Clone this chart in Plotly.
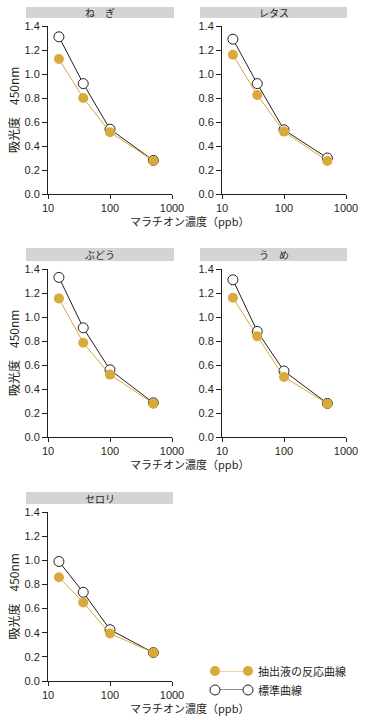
import plotly.graph_objects as go

# ---- data ----
conc = [15, 37, 100, 500]  # ppb
panels = ["ね　ぎ", "レタス", "ぶどう", "う　め", "セロリ"]
standard = {
    "ね　ぎ": [1.31, 0.92, 0.54, 0.28],
    "レタス": [1.29, 0.92, 0.535, 0.30],
    "ぶどう": [1.33, 0.91, 0.56, 0.285],
    "う　め": [1.31, 0.88, 0.55, 0.28],
    "セロリ": [0.99, 0.735, 0.425, 0.235],
}
extract = {
    "ね　ぎ": [1.125, 0.80, 0.515, 0.277],
    "レタス": [1.16, 0.825, 0.52, 0.275],
    "ぶどう": [1.155, 0.785, 0.52, 0.278],
    "う　め": [1.16, 0.84, 0.50, 0.278],
    "セロリ": [0.86, 0.65, 0.393, 0.235],
}
yticks = [0.0, 0.2, 0.4, 0.6, 0.8, 1.0, 1.2, 1.4]
xticks = [10, 100, 1000]
legend_labels = ["抽出液の反応曲線", "標準曲線"]

W, H = 368, 720
GOLD = "#DAA93B"
DARK = "#231F20"
JP = "Noto Sans CJK JP"
LAT = "Liberation Sans, Arial"

# plot areas in pixels: (left, right, top, bottom)
boxes = [
    (48, 172, 26, 194),
    (222, 346, 26, 194),
    (48, 172, 269, 437),
    (222, 346, 269, 437),
    (48, 172, 512, 681),
]
bars = [
    (26, 174, 7, 18),
    (200, 347, 7, 18),
    (26, 174, 248, 261),
    (200, 347, 248, 261),
    (26, 173, 492, 504),
]

fig = go.Figure()
shapes = []
annotations = []

for i, name in enumerate(panels):
    l, r, t, b = boxes[i]
    n = i + 1
    xa = "x" if n == 1 else f"x{n}"
    ya = "y" if n == 1 else f"y{n}"
    fig.add_trace(go.Scatter(
        x=conc, y=standard[name], xaxis=xa, yaxis=ya, mode="lines+markers",
        line=dict(color=DARK, width=1),
        marker=dict(size=10, color="white", line=dict(color=DARK, width=1)),
        showlegend=False, cliponaxis=False))
    fig.add_trace(go.Scatter(
        x=conc, y=extract[name], xaxis=xa, yaxis=ya, mode="lines+markers",
        line=dict(color=GOLD, width=1),
        marker=dict(size=10, color=GOLD, line=dict(color=GOLD, width=0)),
        showlegend=False, cliponaxis=False))
    axx = dict(
        domain=[l / W, r / W], type="log", range=[1, 3], tickvals=xticks,
        ticktext=[str(v) for v in xticks], ticks="outside", ticklen=4,
        tickwidth=1, tickcolor=DARK, showline=True, linecolor=DARK,
        linewidth=1, showgrid=False, zeroline=False, anchor=ya,
        automargin=False,
        tickfont=dict(family=LAT, size=11, color=DARK), fixedrange=True)
    axy = dict(
        domain=[1 - b / H, 1 - t / H], range=[0, 1.4], tickvals=yticks,
        tickformat=".1f", ticks="outside", ticklen=5, tickwidth=1,
        tickcolor=DARK, showline=True, linecolor=DARK, linewidth=1,
        showgrid=False, zeroline=False, anchor=xa, automargin=False,
        tickfont=dict(family=LAT, size=11, color=DARK), fixedrange=True)
    fig.update_layout(**{("xaxis" if n == 1 else f"xaxis{n}"): axx,
                         ("yaxis" if n == 1 else f"yaxis{n}"): axy})
    bl, br, bt, bb = bars[i]
    shapes.append(dict(type="rect", xref="paper", yref="paper",
                       x0=bl / W, x1=br / W, y0=1 - bb / H, y1=1 - bt / H,
                       fillcolor="#D4D4D4", line=dict(width=0), layer="below"))
    annotations.append(dict(text=name, xref="paper", yref="paper",
                            x=(bl + br) / 2 / W, y=1 - (bt + bb) / 2 / H,
                            showarrow=False, xanchor="center", yanchor="middle",
                            font=dict(family=JP, size=10, color=DARK)))

# y-axis titles (left column) and x-axis titles
for (l, r, t, b) in [boxes[0], boxes[2], boxes[4]]:
    annotations.append(dict(text="吸光度　450nm", xref="paper", yref="paper",
                            x=13 / W, y=1 - (t + b) / 2 / H, textangle=-90,
                            showarrow=False, xanchor="center", yanchor="middle",
                            font=dict(family=JP, size=12, color=DARK)))
    annotations.append(dict(text="マラチオン濃度（ppb）", xref="paper", yref="paper",
                            x=189 / W, y=1 - (b + 27) / H,
                            showarrow=False, xanchor="center", yanchor="middle",
                            font=dict(family=JP, size=11, color=DARK)))

# legend key on a hidden axis
fig.add_trace(go.Scatter(x=[0, 1], y=[1, 1], xaxis="x6", yaxis="y6",
                         mode="lines+markers", line=dict(color=GOLD, width=1),
                         marker=dict(size=10, color=GOLD), showlegend=False,
                         cliponaxis=False, hoverinfo="skip"))
fig.add_trace(go.Scatter(x=[0, 1], y=[0, 0], xaxis="x6", yaxis="y6",
                         mode="lines+markers", line=dict(color=DARK, width=1),
                         marker=dict(size=10, color="white",
                                     line=dict(color=DARK, width=1)),
                         showlegend=False, cliponaxis=False, hoverinfo="skip"))
fig.update_layout(
    xaxis6=dict(domain=[215 / W, 248 / W], range=[0, 1], visible=False,
                anchor="y6", fixedrange=True, automargin=False),
    yaxis6=dict(domain=[1 - 690 / H, 1 - 671 / H], range=[0, 1], visible=False,
                anchor="x6", fixedrange=True, automargin=False),
)
for k, lab in enumerate(legend_labels):
    annotations.append(dict(text=lab, xref="paper", yref="paper",
                            x=256 / W, y=1 - (671 + 19 * k) / H,
                            showarrow=False, xanchor="left", yanchor="middle",
                            font=dict(family=JP, size=11, color=DARK)))

fig.update_layout(
    width=W, height=H, margin=dict(l=0, r=0, t=0, b=0, pad=0, autoexpand=False),
    paper_bgcolor="white", plot_bgcolor="white",
    shapes=shapes, annotations=annotations, showlegend=False,
)
fig.write_html("out.html", config={"displayModeBar": False},
               post_script="document.body.style.margin='0px';"
                           "document.body.style.overflow='hidden';")
